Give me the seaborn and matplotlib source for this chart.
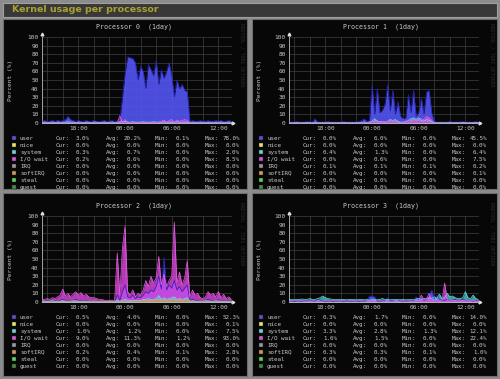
import matplotlib

matplotlib.use("Agg")
import matplotlib.pyplot as plt
import numpy as np
import seaborn as sns
from matplotlib.patches import Rectangle

W, H = 500, 379

# sample grid: one value every 20 minutes, from 13:20 to 13:40 next day (hours)
hours = 13 + 1 / 3 + np.arange(74) / 3
tick_hours = [18, 24, 30, 36]
tick_labels = ["18:00", "00:00", "06:00", "12:00"]

series_names = ["user", "nice", "system", "I/O wait", "IRQ", "softIRQ", "steal", "guest"]
swatch_colors = ["#5a52d0", "#e6e66a", "#6ad6d6", "#d25ad2",
                 "#9a9a9a", "#d4985e", "#5ad45a", "#4a8a4a"]

cpu0_user = [2, 3, 2, 2, 3, 2, 3, 2, 3, 4,
             8, 4, 3, 2, 3, 2, 2, 3, 2, 2,
             3, 2, 2, 2, 3, 2, 2, 3, 2, 2,
             3, 30, 57, 77, 76, 75, 70, 50, 66, 60,
             40, 68, 62, 55, 73, 45, 62, 52, 60, 70,
             55, 30, 50, 40, 45, 38, 36, 2, 3, 2,
             2, 3, 2, 2, 3, 2, 2, 3, 2, 3,
             2, 2, 3, 2]
cpu0_system = [1, 1, 0.5, 1, 1, 0.5, 1, 1, 0.5, 1,
               1.5, 1, 1, 0.5, 1, 1, 0.5, 1, 1, 0.5,
               1, 1, 0.5, 1, 1, 0.5, 1, 1, 0.5, 1,
               1, 1.5, 2, 1, 1, 1.5, 1, 1, 1, 1.5,
               1, 1, 1, 1.5, 1, 1, 1, 1.5, 1, 1,
               1, 1, 1.5, 1, 1, 1, 1, 1, 0.5, 1,
               1, 0.5, 1, 1, 0.5, 1, 1, 0.5, 1, 1,
               0.5, 1, 1, 0.5]
cpu0_iowait = [0.2, 0, 0.3, 0, 0.2, 0, 0.5, 0, 0.2, 0,
               0.5, 0, 0.2, 0, 0.3, 0, 0.2, 0, 0.3, 0,
               0.2, 0, 0.3, 0, 0.2, 0, 0.3, 0, 0.2, 0.5,
               8.5, 1, 4, 1, 0.5, 1, 0.5, 1, 0.5, 1,
               0.5, 1, 0.5, 1, 0.5, 1, 2, 3.5, 1, 3,
               4, 1, 3.5, 2, 3, 4, 3, 0.2, 0, 0.3,
               0, 0.2, 0, 0.3, 0, 0.2, 0, 0.3, 0, 0.2,
               0, 0.3, 0, 0.2]

cpu1_user = [1, 1, 1, 2, 1, 1, 1, 2, 1, 1,
             5, 1, 1, 1, 1, 2, 1, 1, 1, 1,
             1, 2, 1, 1, 1, 1, 1, 2, 3, 5,
             2, 3, 44, 10, 40, 12, 15, 22, 44, 14,
             38, 10, 25, 8, 5, 6, 33, 12, 38, 8,
             12, 29, 10, 36, 38, 12, 2, 1, 1, 1,
             1, 1, 2, 1, 1, 1, 1, 2, 1, 1,
             1, 1, 2, 1]
cpu1_system = [0.5, 0.3, 0.5, 0.5, 0.3, 0.5, 0.5, 0.3, 0.5, 0.5,
               1, 0.5, 0.3, 0.5, 0.5, 0.3, 0.5, 0.5, 0.3, 0.5,
               0.5, 0.3, 0.5, 0.5, 0.3, 0.5, 0.5, 0.3, 0.5, 1,
               0.5, 1, 2, 5, 2, 1.5, 2, 1, 2, 4,
               3, 4, 2, 1, 1, 1.5, 3, 5, 6, 4,
               6, 3, 2, 4, 3, 1.5, 0.5, 0.3, 0.5, 0.5,
               0.3, 0.5, 0.5, 0.3, 0.5, 0.5, 0.3, 0.5, 0.5, 0.3,
               0.5, 0.5, 0.3, 0.5]
cpu1_iowait = [0.2, 0, 0, 0.3, 0, 0, 0.2, 0, 0, 0.3,
               0, 0, 0.2, 0, 0, 0.3, 0, 0, 0.2, 0,
               0, 0.3, 0, 0, 0.2, 0, 0, 0.3, 0, 0.5,
               0.2, 1, 2, 1.5, 3, 1, 2, 1.5, 2, 3,
               2, 2.5, 1, 0.5, 1, 2, 3, 2, 4, 3,
               3.5, 5, 4, 7.5, 6, 3, 0.3, 0, 0, 0.2,
               0, 0, 0.3, 0, 0, 0.2, 0, 0, 0.3, 0,
               0, 0.2, 0, 0]

cpu2_user = [1, 1, 2, 1, 1, 2, 1, 2, 3, 2,
             2, 1, 2, 3, 2, 2, 1, 2, 1, 1,
             1, 1, 1, 1, 1, 1, 1, 1, 1, 8,
             2, 12, 20, 6, 5, 8, 4, 6, 5, 8,
             12, 10, 14, 12, 18, 30, 15, 52, 14, 20,
             16, 25, 14, 18, 12, 16, 20, 2, 3, 2,
             2, 1, 1, 2, 3, 2, 2, 1, 3, 1,
             2, 1, 2, 1]
cpu2_system = [1, 1, 1, 1, 1.5, 1, 1, 1, 1.5, 1,
               1, 1, 1.5, 1, 1, 1, 1, 1, 1, 1,
               1, 1, 0.5, 1, 1, 0.5, 1, 1, 0.5, 2,
               1, 2, 3, 2, 2, 1.5, 2, 2, 1.5, 3,
               3, 4, 2.5, 3, 4, 7.5, 3, 5, 3, 4,
               5, 6, 3, 4, 3, 4, 5, 1, 1.5, 1,
               1, 1, 1, 1.5, 1, 1, 1, 1.5, 1, 1,
               1, 1, 1, 1]
cpu2_iowait = [3, 3, 4, 3, 5, 4, 6, 8, 15, 7,
               10, 6, 9, 12, 8, 11, 7, 9, 6, 5,
               5, 4, 3, 3, 2, 2, 2, 2, 2, 57,
               8, 63, 88, 12, 8, 14, 6, 10, 8, 14,
               25, 18, 30, 22, 28, 53, 20, 32, 18, 25,
               30, 93, 22, 35, 20, 28, 48, 6, 14, 8,
               10, 5, 4, 6, 12, 8, 10, 6, 12, 5,
               9, 4, 6, 3]
cpu2_softirq = [0.3, 0.3, 0.3, 0.3, 0.3, 0.3, 0.3, 0.3, 0.5, 0.3,
                0.3, 0.3, 0.3, 0.3, 0.3, 0.3, 0.3, 0.3, 0.3, 0.3,
                0.3, 0.3, 0.3, 0.3, 0.3, 0.3, 0.3, 0.3, 0.3, 0.5,
                0.3, 0.8, 1, 0.8, 0.6, 0.8, 1, 1.2, 1.5, 1.8,
                2, 1.8, 2.2, 2, 2.5, 2.8, 2, 2.5, 2.2, 2.4,
                2.5, 2.8, 2.2, 2.5, 2, 2.4, 2.6, 0.4, 0.3, 0.3,
                0.3, 0.3, 0.3, 0.3, 0.3, 0.3, 0.3, 0.3, 0.3, 0.3,
                0.3, 0.3, 0.3, 0.3]

cpu3_user = [0.5, 1, 0.5, 1, 0.5, 1, 1.5, 1, 2, 1,
             1, 3, 2, 1, 1, 0.5, 1, 0.5, 1, 0.5,
             1, 0.5, 1, 0.5, 1, 0.5, 1, 0.5, 1, 0.5,
             2, 7, 7, 6, 1, 1, 1, 2, 5, 1,
             1, 3, 3, 1, 1, 1, 1, 2, 1, 6,
             3, 6, 2, 3, 8, 14, 4, 8, 3, 2,
             2, 3, 2, 2, 3, 2, 2, 3, 2, 2,
             2, 1, 2, 1]
cpu3_system = [3, 3, 2.5, 3, 3, 3.5, 3, 3, 4, 3,
               3, 4, 5, 7, 5, 4, 3.5, 3, 3, 3,
               3, 3, 2.5, 3, 3, 3, 2.5, 3, 3, 2.5,
               3, 2, 3, 3, 2.5, 3, 4, 3, 3, 2.5,
               3, 3, 2.5, 3, 3, 2.5, 3, 3, 3, 3.5,
               4, 3, 4, 3.5, 5, 4, 6, 4, 9, 4,
               5, 10, 6, 7, 5, 4, 4, 5, 12, 5,
               4, 8, 4, 3]
cpu3_iowait = [1, 1, 1.5, 1, 1, 1.5, 1, 1, 1.5, 1,
               1, 1.5, 1, 1, 1.5, 1, 1, 1.5, 1, 1,
               1, 1.5, 1, 1, 1.5, 1, 1, 1.5, 1, 1,
               1.5, 1, 2, 1, 1, 1.5, 1, 1, 1.5, 1,
               1, 1.5, 1, 1, 1.5, 1, 1, 1.5, 1, 1.5,
               2, 8, 3, 4, 10, 3, 2, 3, 2, 2,
               22, 3, 2, 2, 1.5, 2, 2, 1.5, 2, 2,
               1.5, 2, 1.5, 1]

# legend figures: (cur, avg, min, max) per series, same order as series_names
stats0 = [("3.0", "20.2", "0.1", "78.0"), ("0.0", "0.0", "0.0", "0.0"),
          ("0.3", "0.7", "0.0", "2.0"), ("0.2", "0.6", "0.0", "8.5"),
          ("0.0", "0.0", "0.0", "0.0"), ("0.0", "0.0", "0.0", "0.0"),
          ("0.0", "0.0", "0.0", "0.0"), ("0.0", "0.0", "0.0", "0.0")]
stats1 = [("0.0", "6.0", "0.0", "45.5"), ("0.0", "0.0", "0.0", "0.0"),
          ("0.4", "1.3", "0.0", "6.4"), ("0.0", "0.6", "0.0", "7.5"),
          ("0.1", "0.1", "0.1", "0.2"), ("0.0", "0.0", "0.0", "0.1"),
          ("0.0", "0.0", "0.0", "0.0"), ("0.0", "0.0", "0.0", "0.0")]
stats2 = [("0.5", "4.0", "0.0", "52.3"), ("0.0", "0.0", "0.0", "0.1"),
          ("1.0", "1.2", "0.0", "7.5"), ("9.0", "11.3", "1.2", "93.0"),
          ("0.0", "0.0", "0.0", "0.0"), ("0.2", "0.4", "0.1", "2.8"),
          ("0.0", "0.0", "0.0", "0.0"), ("0.0", "0.0", "0.0", "0.0")]
stats3 = [("0.3", "1.7", "0.0", "14.0"), ("0.0", "0.0", "0.0", "0.0"),
          ("3.3", "2.8", "1.3", "12.1"), ("1.6", "1.5", "0.0", "22.4"),
          ("0.0", "0.0", "0.0", "0.0"), ("0.3", "0.3", "0.1", "1.0"),
          ("0.0", "0.0", "0.0", "0.0"), ("0.0", "0.0", "0.0", "0.0")]

# fill colour, edge colour, alpha
STYLE = {
    "user": ("#5454f2", "#2020c0", 0.9),
    "system": ("#4fd2d2", "#66e6e6", 0.75),
    "I/O wait": ("#e048e0", "#ec5cec", 0.8),
    "softIRQ": ("#d4944e", "#e0a060", 0.9),
}

MONO = "DejaVu Sans Mono"
TXT = "#c8c8c8"


def fx(x):
    return x / W


def fy(y):
    return 1 - y / H


def box(fig, x0, y0, x1, y1, face, edge, lw=0.8):
    fig.patches.append(Rectangle((fx(x0), fy(y1)), (x1 - x0) / W, (y1 - y0) / H,
                                 transform=fig.transFigure, facecolor=face,
                                 edgecolor=edge, lw=lw, zorder=-5))


def draw_processor(fig, n, panel, left, top, series, stats):
    x0, y0, x1, y1 = panel
    box(fig, x0, y0, x1, y1, "#070707", "#6e6e6e")
    pw, ph = 190, 86
    ax = fig.add_axes([fx(left), fy(top + ph), pw / W, ph / H])
    ax.set_facecolor("#070707")

    for name, vals in series:
        face, edge, alpha = STYLE[name]
        ax.fill_between(hours, vals, color=face, alpha=alpha, lw=0, zorder=2)
        sns.lineplot(x=hours, y=vals, ax=ax, color=edge, linewidth=0.5,
                     estimator=None, legend=False, zorder=3)

    ax.set_xlim(13.33, 37.75)
    ax.set_ylim(0, 100)
    ax.set_yticks(range(0, 101, 10))
    ax.set_xticks(tick_hours)
    ax.set_xticklabels(tick_labels)
    ax.set_xticks(np.arange(14, 37, 2), minor=True)
    ax.grid(which="both", color="#404040", lw=0.5, zorder=0)
    ax.set_axisbelow(True)
    ax.tick_params(which="both", colors=TXT, labelsize=4.4, length=1.2, width=0.4, pad=1.2)
    ax.tick_params(which="minor", length=0)
    for lab in ax.get_xticklabels() + ax.get_yticklabels():
        lab.set_family(MONO)
    for side in ("top", "right"):
        ax.spines[side].set_visible(False)
    for side in ("left", "bottom"):
        ax.spines[side].set_color("#bdbdbd")
        ax.spines[side].set_linewidth(0.6)
    ax.set_xlabel("")
    ax.set_ylabel("")
    ax.plot([0], [1.03], marker="^", ms=2, color="#e0e0e0", transform=ax.transAxes, clip_on=False)
    ax.plot([1.005], [0], marker=">", ms=2, color="#e0e0e0", transform=ax.transAxes, clip_on=False)

    fig.text(fx(left + pw / 2 - 3), fy(top - 10), f"Processor {n}  (1day)", family=MONO,
             fontsize=4.8, color=TXT, ha="center", va="center")
    fig.text(fx(x0 + 8), fy(top + 43), "Percent (%)", family=MONO, fontsize=4.4,
             color=TXT, rotation=90, ha="center", va="center")
    fig.text(fx(x1 - 5), fy(top + 18), "RRDTOOL / TOBI OETIKER", family=MONO, fontsize=3.4,
             color="#2c2c2c", rotation=270, ha="center", va="center")

    for k, (name, col, st) in enumerate(zip(series_names, swatch_colors, stats)):
        y = top + ph + 15 + 7 * k
        fig.patches.append(Rectangle((fx(left - 30), fy(y + 2)), 4 / W, 4 / H,
                                     transform=fig.transFigure, facecolor=col,
                                     edgecolor="#202020", lw=0.3))
        kw = dict(family=MONO, fontsize=4.2, color=TXT, va="baseline")
        yb = fy(y + 1.6)
        fig.text(fx(left - 22), yb, name, ha="left", **kw)
        for lab, val, lx, rx in zip(("Cur:", "Avg:", "Min:", "Max:"), st,
                                    (14, 64, 113, 163), (48, 99, 148, 198)):
            fig.text(fx(left + lx), yb, lab, ha="left", **kw)
            fig.text(fx(left + rx), yb, f"{val}%", ha="right", **kw)


sns.set_theme(style="dark")
plt.rcParams["font.family"] = ["DejaVu Sans"]

fig = plt.figure(figsize=(W / 100, H / 100), dpi=100)
fig.patch.set_facecolor("#8c8c8c")

# title bar
box(fig, 3, 3, 497, 17, "#383838", "#a0a0a0")
fig.text(fx(12), fy(10), "Kernel usage per processor", fontsize=6.8, fontweight="bold",
         color="#a9a232", ha="left", va="center")

panels = [(3, 19, 247, 189), (252, 19, 497, 189), (3, 193, 247, 376), (252, 193, 497, 376)]
origins = [(42, 37), (289, 37), (42, 216), (289, 216)]
cpu_series = [
    [("user", cpu0_user), ("system", cpu0_system), ("I/O wait", cpu0_iowait)],
    [("user", cpu1_user), ("system", cpu1_system), ("I/O wait", cpu1_iowait)],
    [("user", cpu2_user), ("I/O wait", cpu2_iowait), ("system", cpu2_system), ("softIRQ", cpu2_softirq)],
    [("user", cpu3_user), ("system", cpu3_system), ("I/O wait", cpu3_iowait)],
]
cpu_stats = [stats0, stats1, stats2, stats3]

for n in range(4):
    draw_processor(fig, n, panels[n], *origins[n], cpu_series[n], cpu_stats[n])

fig.savefig("out.png", dpi=100, facecolor=fig.get_facecolor())
plt.close(fig)
